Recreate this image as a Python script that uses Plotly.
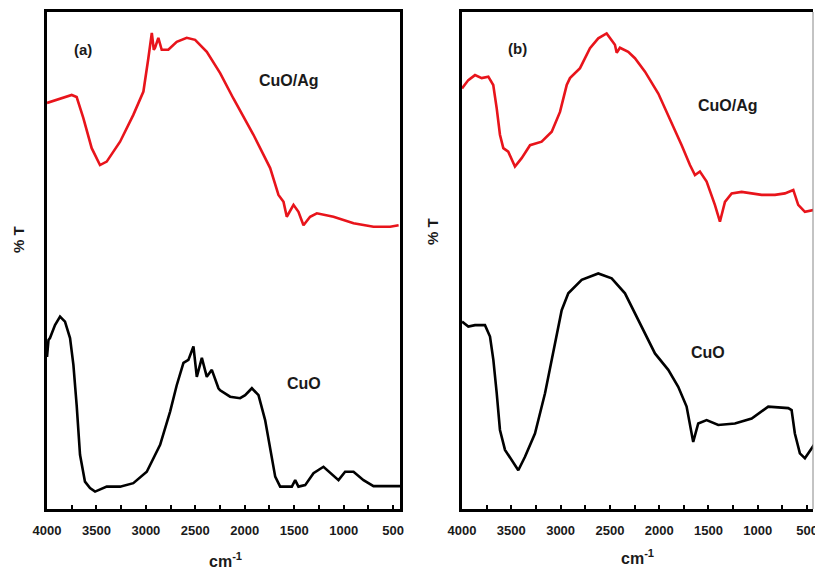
import plotly.graph_objects as go

# ---------------- data (wavenumber cm^-1, %T arbitrary units) ----------------
a_cuoag_wn = [4000, 3750, 3700, 3633, 3548, 3464, 3396, 3261, 3127, 3025, 2975, 2940, 2920, 2907,
              2874, 2840, 2773, 2688, 2587, 2502, 2384, 2249, 2115, 1912, 1743, 1659, 1608, 1575,
              1507, 1457, 1406, 1339, 1271, 1103, 900, 698, 529, 444]
a_cuoag_t = [81.7, 83.3, 82.9, 78.7, 72.6, 69.2, 69.9, 73.9, 79.3, 84.0, 90.7, 95.8, 92.4, 92.8,
             94.8, 92.4, 92.4, 94.0, 94.8, 94.4, 92.0, 87.7, 82.6, 75.3, 68.6, 63.2, 61.8, 58.8,
             61.2, 59.8, 57.1, 58.8, 59.5, 58.8, 57.5, 56.8, 56.8, 57.1]

a_cuo_wn = [4000, 3985, 3970, 3919, 3868, 3818, 3767, 3733, 3700, 3666, 3616, 3565, 3514, 3396,
            3261, 3127, 2991, 2856, 2755, 2688, 2620, 2570, 2519, 2485, 2434, 2384, 2333, 2266,
            2249, 2148, 2047, 1996, 1928, 1861, 1794, 1743, 1692, 1642, 1524, 1490, 1457, 1389,
            1305, 1204, 1103, 1052, 985, 900, 799, 698, 630, 428]
a_cuo_t = [30.6, 34.0, 34.4, 37.0, 38.7, 37.7, 34.4, 29.0, 20.9, 10.9, 5.5, 4.2, 3.5, 4.5,
           4.5, 5.2, 7.5, 12.9, 19.6, 24.9, 29.4, 30.0, 32.7, 26.6, 30.4, 26.6, 28.0, 24.3,
           23.9, 22.6, 22.3, 22.9, 24.3, 22.9, 17.9, 11.9, 6.5, 4.5, 4.5, 5.8, 4.5, 4.8,
           7.2, 8.5, 6.8, 5.8, 7.5, 7.5, 5.8, 4.6, 4.6, 4.6]

b_cuoag_wn = [4000, 3936, 3868, 3800, 3733, 3683, 3648, 3615, 3581, 3531, 3463, 3395, 3310, 3192,
              3090, 3006, 2938, 2905, 2803, 2702, 2618, 2533, 2449, 2431, 2398, 2314, 2246, 2144,
              2009, 1908, 1772, 1688, 1637, 1587, 1519, 1435, 1384, 1333, 1265, 1164, 961, 826,
              725, 640, 590, 522, 420]
b_cuoag_t = [84.6, 86.3, 87.3, 86.7, 87.0, 85.3, 80.6, 75.3, 72.6, 71.9, 68.9, 70.6, 73.2, 73.9,
             75.9, 79.9, 85.3, 86.7, 88.7, 92.7, 94.7, 95.7, 93.4, 91.8, 92.8, 92.0, 90.7, 88.0,
             83.6, 79.3, 73.2, 69.2, 67.2, 67.9, 65.9, 61.2, 57.8, 61.8, 63.5, 63.8, 63.2, 63.2,
             63.5, 64.2, 61.2, 59.8, 60.2]

b_cuo_wn = [4000, 3936, 3868, 3767, 3716, 3682, 3648, 3615, 3564, 3496, 3429, 3361, 3260, 3158,
            3057, 2989, 2922, 2786, 2618, 2482, 2347, 2246, 2144, 2043, 1908, 1807, 1722, 1688,
            1655, 1604, 1519, 1401, 1232, 1062, 894, 691, 657, 624, 573, 522, 420]
b_cuo_t = [37.7, 36.7, 37.0, 37.0, 34.7, 30.0, 23.3, 15.9, 11.9, 9.9, 7.8, 10.5, 15.2, 23.3,
           33.3, 40.0, 43.4, 46.1, 47.4, 46.4, 43.4, 39.4, 35.4, 31.3, 28.0, 24.6, 20.6, 16.6,
           13.5, 17.2, 17.9, 16.9, 17.2, 18.2, 20.6, 20.3, 19.9, 15.2, 11.2, 10.2, 13.2]

tick_vals = [4000, 3500, 3000, 2500, 2000, 1500, 1000, 500]
tick_text = ["4000", "3500", "3000", "2500", "2000", "1500", "1000", "500"]

RED = "#e8141b"
BLACK = "#000000"
FONT = "Arial, Liberation Sans, sans-serif"

W, H = 815, 571
def px(x):
    return x / W
def py(y):
    return 1 - y / H

fig = go.Figure()
fig.add_trace(go.Scatter(x=a_cuoag_wn, y=a_cuoag_t, mode="lines",
                         line=dict(color=RED, width=2.6), xaxis="x", yaxis="y"))
fig.add_trace(go.Scatter(x=a_cuo_wn, y=a_cuo_t, mode="lines",
                         line=dict(color=BLACK, width=2.6), xaxis="x", yaxis="y"))
fig.add_trace(go.Scatter(x=b_cuoag_wn, y=b_cuoag_t, mode="lines",
                         line=dict(color=RED, width=2.6), xaxis="x2", yaxis="y2"))
fig.add_trace(go.Scatter(x=b_cuo_wn, y=b_cuo_t, mode="lines",
                         line=dict(color=BLACK, width=2.6), xaxis="x2", yaxis="y2"))

xcommon = dict(tickmode="array", tickvals=tick_vals, ticktext=tick_text,
               ticks="inside", ticklen=4, tickwidth=2, tickcolor="black",
               minor=dict(ticks="inside", ticklen=4, tickwidth=2, tickcolor="black", dtick=250),
               showgrid=False, zeroline=False, showline=True, linewidth=2.5, linecolor="black",
               tickfont=dict(family=FONT, size=13, color="#1a1a1a", weight="bold"),
               ticklabelstandoff=8, automargin=False, ticklabeloverflow="allow")
ycommon = dict(range=[0, 100], showticklabels=False, ticks="", showgrid=False, zeroline=False,
               showline=True, linewidth=2.5, linecolor="black", automargin=False)
ydom = [py(509), py(12)]

fig.update_layout(
    width=W, height=H,
    margin=dict(l=0, r=0, t=0, b=0, autoexpand=False),
    paper_bgcolor="white", plot_bgcolor="white",
    showlegend=False,
    xaxis=dict(domain=[px(47), px(400)], range=[4000, 430], anchor="y", mirror=True, **xcommon),
    yaxis=dict(domain=ydom, anchor="x", mirror=True, **ycommon),
    xaxis2=dict(domain=[px(462), px(813)], range=[4000, 440], anchor="y2", mirror=True, **xcommon),
    yaxis2=dict(domain=ydom, anchor="x2", **ycommon),
)

# thin right border of panel (b)
fig.add_shape(type="line", xref="paper", yref="paper", x0=px(813), x1=px(813),
              y0=py(509), y1=py(12), line=dict(color="#888888", width=1))

def ann(text, x, y, size, angle=0):
    fig.add_annotation(text=text, x=px(x), y=py(y), xref="paper", yref="paper",
                       showarrow=False, textangle=angle, xanchor="center", yanchor="middle",
                       font=dict(family=FONT, size=size, color="#1a1a1a", weight="bold"))

ann("(a)", 83, 50, 15)
ann("(b)", 517, 48, 15)
ann("CuO/Ag", 289, 80, 16)
ann("CuO", 304, 383, 16)
ann("CuO/Ag", 728, 105, 16)
ann("CuO", 708, 352, 16)
ann("% T", 18, 240, 15, -90)
ann("% T", 432, 232, 15, -90)
ann("cm<sup>-1</sup>", 225, 560, 16)
ann("cm<sup>-1</sup>", 637, 557, 16)

fig.write_html("out.html")
